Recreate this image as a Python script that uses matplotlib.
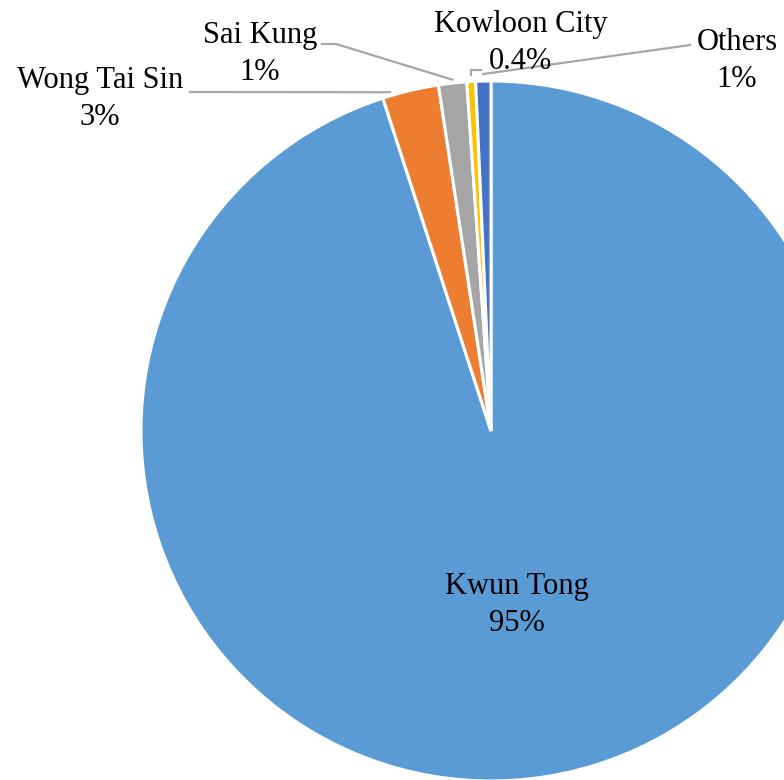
import numpy as np
import matplotlib.pyplot as plt

# district share of cases
districts = ['Kwun Tong', 'Wong Tai Sin', 'Sai Kung', 'Kowloon City', 'Others']
shares = [95.0, 2.6, 1.3, 0.4, 0.7]
pct_labels = ['95%', '3%', '1%', '0.4%', '1%']
colors = ['#5B9BD5', '#ED7D31', '#A5A5A5', '#FFC000', '#4472C4']

W, H = 784, 780
CX, CY, R = 491, 431, 350   # pie centre / radius in pixels


def px(x, y):
    # pixel (from top-left) -> data coords, pie radius = 1
    return (x - CX) / R, (CY - y) / R


plt.rcParams['font.family'] = ['Liberation Serif', 'DejaVu Serif']

fig = plt.figure(figsize=(W / 100, H / 100), dpi=100)
ax = fig.add_axes([0, 0, 1, 1])

wedges, _ = ax.pie(shares, colors=colors, startangle=90, counterclock=False,
                   wedgeprops=dict(edgecolor='white', linewidth=2.2))

ax.set_xlim(px(0, 0)[0], px(W, 0)[0])
ax.set_ylim(px(0, H)[1], px(0, 0)[1])
ax.set_aspect('auto')
ax.axis('off')


def edge_point(w, frac=0.5, r=1.01):
    a = np.deg2rad(w.theta1 + (w.theta2 - w.theta1) * frac)
    return r * np.cos(a), r * np.sin(a)


fs = 22
line_kw = dict(color='#A6A6A6', lw=1.6)


def label(i, x, y):
    ax.text(*px(x, y), districts[i] + '\n' + pct_labels[i], ha='center',
            va='center', fontsize=fs, linespacing=1.4)


# Kwun Tong inside
label(0, 517, 605)

# Wong Tai Sin
label(1, 100, 99)
p = edge_point(wedges[1], 0.85)
s = px(190, 92)
ax.plot([s[0], p[0]], [s[1], p[1]], **line_kw)

# Sai Kung
label(2, 260, 54)
p = edge_point(wedges[2], 0.5)
a, b = px(322, 44), px(336, 44)
ax.plot([a[0], b[0], p[0]], [a[1], b[1], p[1]], **line_kw)

# Kowloon City
label(3, 521, 43)
p = edge_point(wedges[3], 0.5, 1.02)
a = px(481, 70)
ax.plot([p[0], p[0], a[0]], [p[1], a[1], a[1]], **line_kw)

# Others
label(4, 737, 61)
p = edge_point(wedges[4], 0.5, 1.02)
s = px(690, 45)
ax.plot([p[0], s[0]], [p[1], s[1]], **line_kw)

fig.savefig('out.png', dpi=100)
